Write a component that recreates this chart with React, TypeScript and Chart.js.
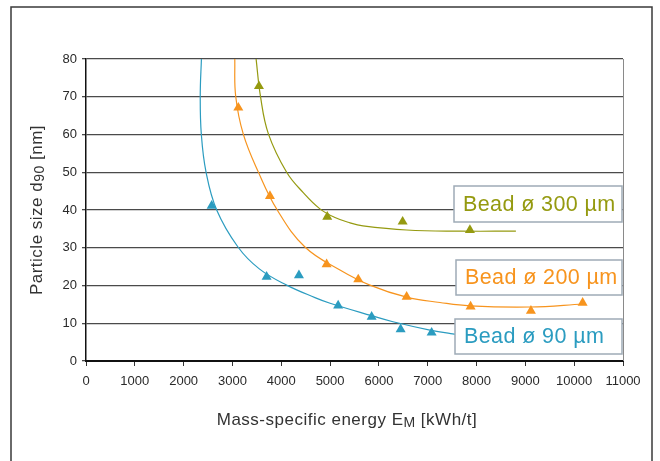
import React, { useEffect, useRef } from 'react';
import { Chart, registerables } from 'chart.js';

Chart.register(...registerables);

// ---- Data ----
const xTickValues = [0, 1000, 2000, 3000, 4000, 5000, 6000, 7000, 8000, 9000, 10000, 11000];
const yTickValues = [0, 10, 20, 30, 40, 50, 60, 70, 80];

const seriesLabels = ['Bead ø 300 µm', 'Bead ø 200 µm', 'Bead ø 90 µm'];
const seriesColors = ['#959a10', '#f7941e', '#2b9cc0'];

// measured points (triangles)
const bead300X = [3543, 4942, 6486, 7864];
const bead300Y = [72.8, 38.2, 36.9, 34.7];

const bead200X = [3120, 3768, 4929, 5577, 6568, 7878, 9114, 10173];
const bead200Y = [67.1, 43.7, 25.6, 21.6, 17.0, 14.4, 13.3, 15.4];

const bead90X = [2574, 3700, 4362, 5165, 5851, 6445, 7080];
const bead90Y = [41.1, 22.3, 22.7, 14.7, 11.7, 8.4, 7.5];

// fitted trend curves
const fit300X = [3482, 3574, 3738, 4110, 4450, 4792, 5100, 5407, 5673, 6568, 7660, 8806];
const fit300Y = [80.3, 70.1, 60.1, 50.0, 44.6, 40.3, 38.0, 36.6, 35.8, 34.7, 34.4, 34.4];

const fit200X = [3047, 3066, 3222, 3529, 3918, 4485, 5202, 5816, 6568, 7250, 7864, 9093, 10185];
const fit200Y = [80.3, 70.2, 60.1, 50.1, 40.0, 30.2, 24.1, 20.1, 16.9, 15.5, 14.6, 14.3, 15.1];

const fit90X = [2365, 2340, 2362, 2458, 2677, 3113, 3550, 4110, 4690, 5000, 5851, 6287, 7045, 7510, 7864];
const fit90Y = [80.3, 70.2, 60.1, 50.1, 40.0, 30.2, 24.4, 20.1, 16.8, 15.3, 12.0, 10.4, 8.2, 7.2, 6.6];

const xTitleParts = [
  { text: 'Mass-specific energy E', sub: false },
  { text: 'M', sub: true },
  { text: ' [kWh/t]', sub: false },
];
const yTitleParts = [
  { text: 'Particle size d', sub: false },
  { text: '90', sub: true },
  { text: ' [nm]', sub: false },
];

const toPts = (xs: number[], ys: number[]) => xs.map((x, i) => ({ x, y: ys[i] }));

const FONT = '"Liberation Sans", Arial, Helvetica, sans-serif';

function drawRich(
  ctx: CanvasRenderingContext2D,
  parts: { text: string; sub: boolean }[],
  cx: number,
  cy: number,
  size: number,
  color: string,
  spacing: number
) {
  const subSize = Math.round(size * 0.85);
  (ctx as any).letterSpacing = `${spacing}px`;
  let total = 0;
  const widths = parts.map((p) => {
    ctx.font = `${p.sub ? subSize : size}px ${FONT}`;
    const w = ctx.measureText(p.text).width;
    total += w;
    return w;
  });
  let x = cx - total / 2;
  ctx.fillStyle = color;
  ctx.textBaseline = 'middle';
  ctx.textAlign = 'left';
  parts.forEach((p, i) => {
    ctx.font = `${p.sub ? subSize : size}px ${FONT}`;
    ctx.fillText(p.text, x, cy + (p.sub ? 3 : 0));
    x += widths[i];
  });
  (ctx as any).letterSpacing = '0px';
}

const decorPlugin = {
  id: 'decor',
  beforeDraw(chart: any) {
    const { ctx, width, height } = chart;
    ctx.save();
    ctx.fillStyle = '#ffffff';
    ctx.fillRect(0, 0, width, height);
    ctx.strokeStyle = '#3a3a3a';
    ctx.lineWidth = 1.5;
    ctx.strokeRect(11, 7, 641, height + 20);
    ctx.restore();
  },
  afterDatasetsDraw(chart: any) {
    const { ctx, chartArea } = chart;
    ctx.save();
    // plot right border
    ctx.strokeStyle = '#8a8a8a';
    ctx.lineWidth = 1;
    ctx.beginPath();
    ctx.moveTo(chartArea.right + 0.5, chartArea.top);
    ctx.lineTo(chartArea.right + 0.5, chartArea.bottom);
    ctx.stroke();

    // legend boxes
    const boxes = [
      [454, 186, 168, 36],
      [456, 260, 166, 35],
      [455, 319, 167, 35],
    ];
    boxes.forEach((b, i) => {
      ctx.fillStyle = '#ffffff';
      ctx.fillRect(b[0], b[1], b[2], b[3]);
      ctx.strokeStyle = '#9eabb6';
      ctx.lineWidth = 1.5;
      ctx.strokeRect(b[0], b[1], b[2], b[3]);
      ctx.fillStyle = seriesColors[i];
      ctx.font = `21.5px ${FONT}`;
      (ctx as any).letterSpacing = '0.4px';
      ctx.textAlign = 'left';
      ctx.textBaseline = 'middle';
      ctx.fillText(seriesLabels[i], b[0] + 9, b[1] + b[3] / 2 + 1);
      (ctx as any).letterSpacing = '0px';
    });
    ctx.restore();
  },
  afterDraw(chart: any) {
    const { ctx, chartArea } = chart;
    ctx.save();
    drawRich(ctx, xTitleParts, 347, 420, 17, '#333333', 0.5);
    ctx.translate(37, (chartArea.top + chartArea.bottom) / 2);
    ctx.rotate(-Math.PI / 2);
    drawRich(ctx, yTitleParts, 0, 0, 17, '#333333', 0.5);
    ctx.restore();
  },
};

export default function App() {
  const canvasRef = useRef<HTMLCanvasElement | null>(null);

  useEffect(() => {
    document.body.style.margin = '0';
    const canvas = canvasRef.current;
    if (!canvas) return;

    const fitDs = (label: string, xs: number[], ys: number[], color: string) => ({
      label,
      data: toPts(xs, ys),
      showLine: true,
      borderColor: color,
      borderWidth: 1.2,
      pointRadius: 0,
      tension: 0.4,
      fill: false,
      order: 2,
    });
    const markDs = (label: string, xs: number[], ys: number[], color: string) => ({
      label,
      data: toPts(xs, ys),
      showLine: false,
      pointStyle: 'triangle',
      pointRadius: 5.8,
      backgroundColor: color,
      borderColor: color,
      borderWidth: 0,
      order: 1,
    });

    const chart = new Chart(canvas, {
      type: 'scatter',
      data: {
        datasets: [
          fitDs('fit300', fit300X, fit300Y, seriesColors[0]),
          fitDs('fit200', fit200X, fit200Y, seriesColors[1]),
          fitDs('fit90', fit90X, fit90Y, seriesColors[2]),
          markDs(seriesLabels[0], bead300X, bead300Y, seriesColors[0]),
          markDs(seriesLabels[1], bead200X, bead200Y, seriesColors[1]),
          markDs(seriesLabels[2], bead90X, bead90Y, seriesColors[2]),
        ] as any,
      },
      options: {
        responsive: false,
        animation: false,
        devicePixelRatio: 1,
        layout: { padding: { top: 59, right: 37, left: 0, bottom: 0 } },
        plugins: {
          legend: { display: false },
          tooltip: { enabled: false },
          title: { display: false },
        },
        scales: {
          x: {
            type: 'linear',
            min: 0,
            max: 11000,
            afterBuildTicks: (scale: any) => {
              scale.ticks = xTickValues.map((v) => ({ value: v }));
            },
            afterFit: (scale: any) => {
              scale.height = 100;
              scale.paddingLeft = 0;
              scale.paddingRight = 0;
            },
            ticks: {
              autoSkip: false,
              maxRotation: 0,
              padding: 8,
              color: '#2a2a2a',
              font: { family: FONT, size: 13 },
              callback: (v: any) => String(v),
            },
            grid: {
              display: true,
              drawOnChartArea: false,
              drawTicks: true,
              tickLength: 5,
              color: '#333333',
              lineWidth: 1,
            },
            border: { display: true, color: '#111111', width: 2 },
          },
          y: {
            type: 'linear',
            min: 0,
            max: 80,
            afterBuildTicks: (scale: any) => {
              scale.ticks = yTickValues.map((v) => ({ value: v }));
            },
            afterFit: (scale: any) => {
              scale.width = 86;
              scale.paddingTop = 0;
              scale.paddingBottom = 0;
            },
            ticks: {
              padding: 5,
              color: '#2a2a2a',
              font: { family: FONT, size: 13 },
              callback: (v: any) => String(v),
            },
            grid: {
              display: true,
              drawTicks: true,
              tickLength: 4,
              color: '#4a4a4a',
              lineWidth: 1.3,
            },
            border: { display: true, color: '#111111', width: 1.5 },
          },
        },
      },
      plugins: [decorPlugin],
    } as any);

    return () => {
      chart.destroy();
    };
  }, []);

  return (
    <div style={{ width: 660, height: 461 }}>
      <canvas ref={canvasRef} width={660} height={461} style={{ display: 'block' }} />
    </div>
  );
}
